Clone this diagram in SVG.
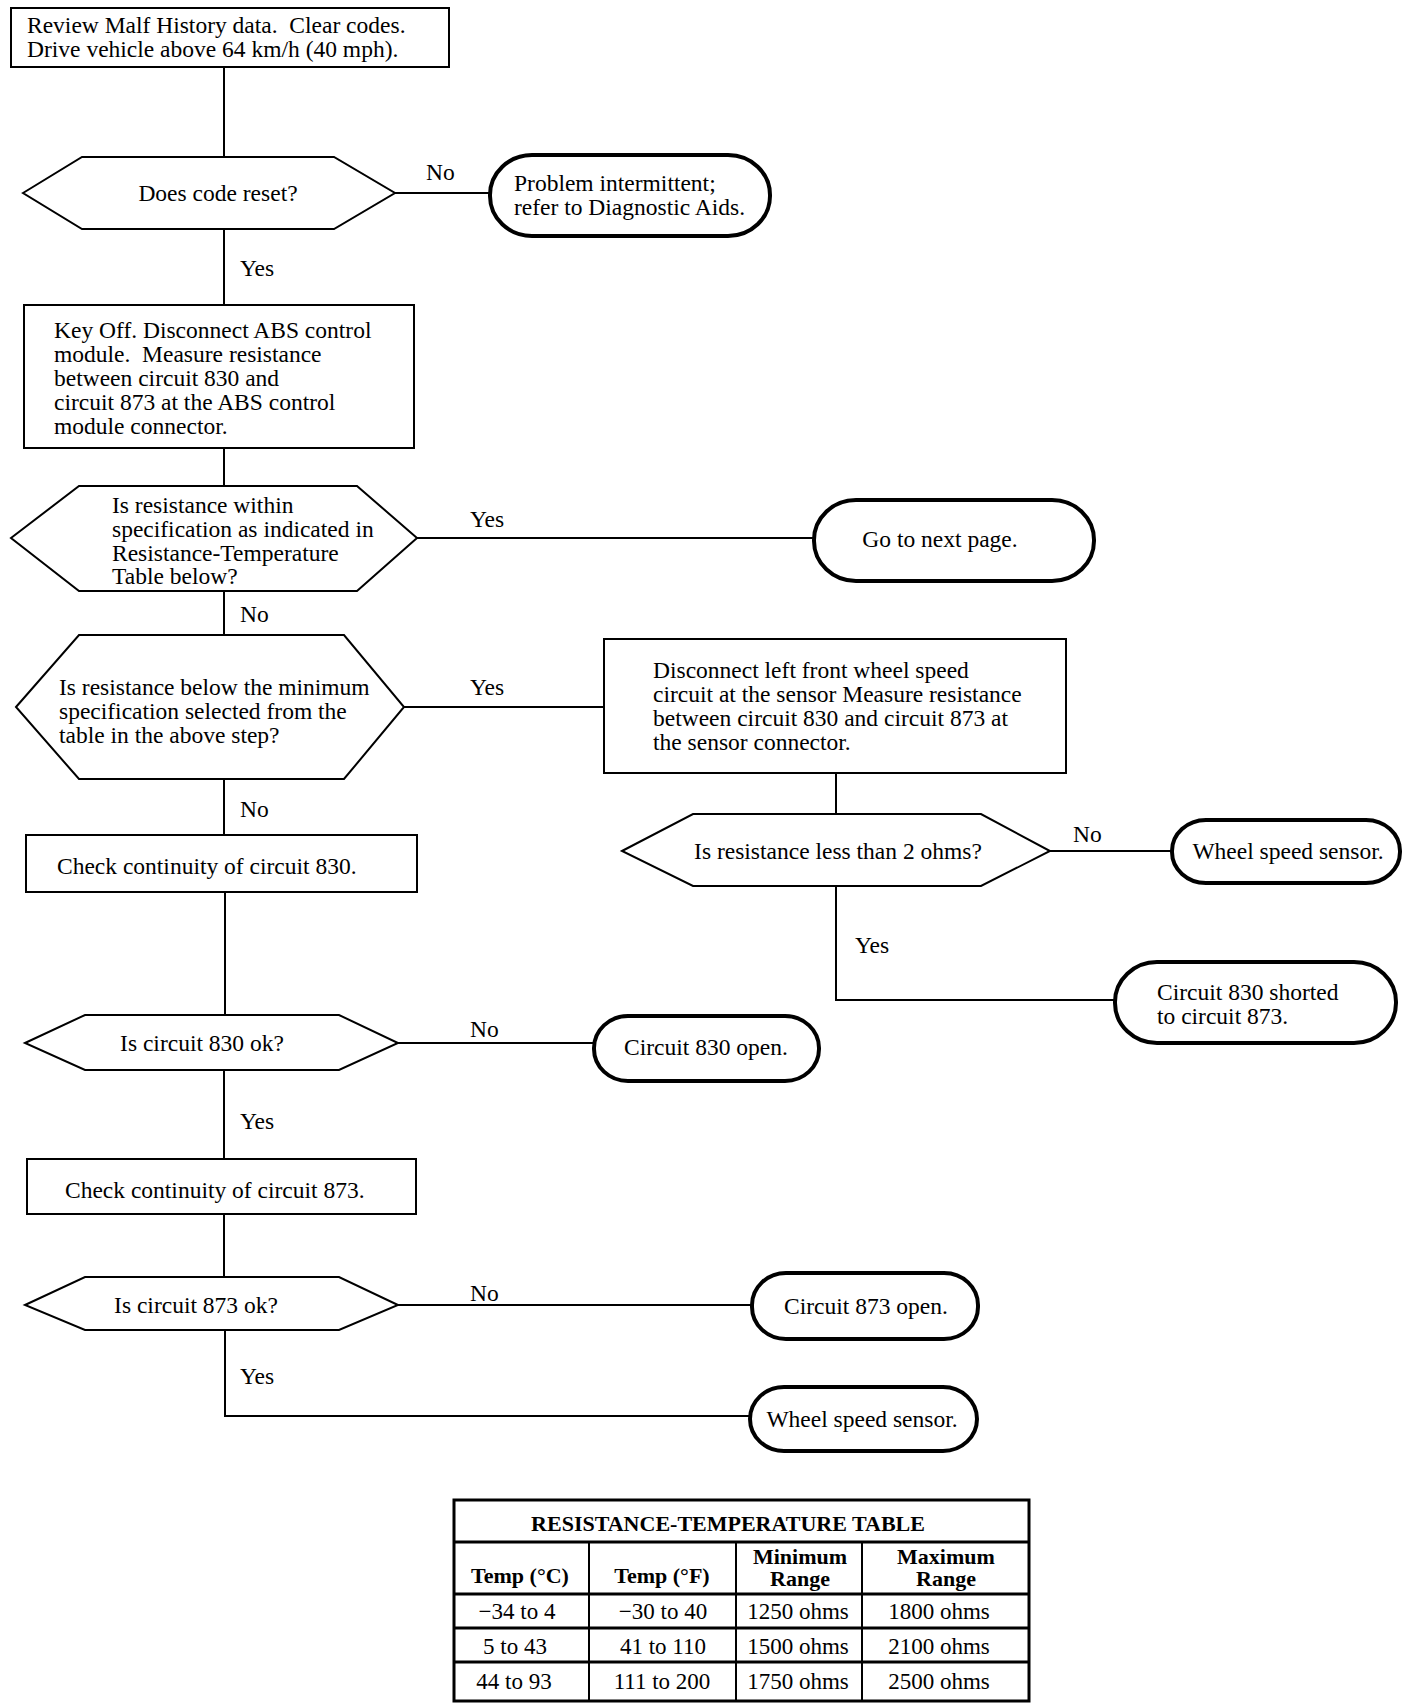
<svg xmlns="http://www.w3.org/2000/svg" width="1408" height="1708" viewBox="0 0 1408 1708">
<style>
text{font-family:"Liberation Serif","Times New Roman",serif;font-size:23.5px;fill:#000;white-space:pre}
.box{fill:#fff;stroke:#000;stroke-width:2}
.hex{fill:#fff;stroke:#000;stroke-width:2}
.term{fill:#fff;stroke:#000;stroke-width:4}
.c{fill:none;stroke:#000;stroke-width:2}
.m{text-anchor:middle}
.b{font-weight:bold}
.t{font-size:22px}
.tv{font-size:23px}
.tb{fill:none;stroke:#000;stroke-width:3}
</style>
<rect width="1408" height="1708" fill="#fff"/>
<g id="connectors">
<path class="c" d="M224,67V157"/>
<path class="c" d="M395,193H490"/>
<path class="c" d="M224,229V305"/>
<path class="c" d="M224,448V486"/>
<path class="c" d="M417,538H814"/>
<path class="c" d="M224,591V635"/>
<path class="c" d="M404,707H604"/>
<path class="c" d="M836,773V814"/>
<path class="c" d="M1048,851H1172"/>
<path class="c" d="M836,886V1000H1115"/>
<path class="c" d="M224,779V835"/>
<path class="c" d="M225,892V1015"/>
<path class="c" d="M398,1043H594"/>
<path class="c" d="M224,1070V1159"/>
<path class="c" d="M224,1214V1277"/>
<path class="c" d="M398,1305H752"/>
<path class="c" d="M225,1330V1416H750"/>
<text x="426" y="180">No</text>
<text x="240" y="276">Yes</text>
<text x="470" y="527">Yes</text>
<text x="240" y="622">No</text>
<text x="470" y="695">Yes</text>
<text x="240" y="817">No</text>
<text x="1073" y="842">No</text>
<text x="855" y="953">Yes</text>
<text x="470" y="1037">No</text>
<text x="240" y="1129">Yes</text>
<text x="470" y="1301">No</text>
<text x="240" y="1384">Yes</text>
</g>
<g id="n1"><rect class="box" x="11" y="8" width="438" height="59"/>
<text x="27" y="33" xml:space="preserve">Review Malf History data.  Clear codes.</text>
<text x="27" y="57">Drive vehicle above 64 km/h (40 mph).</text></g>
<g id="n2"><polygon class="hex" points="23,193 82,157 334,157 395,193 334,229 82,229"/>
<text class="m" x="218" y="201">Does code reset?</text></g>
<g id="n3"><rect class="term" x="490" y="155" width="280" height="81" rx="42" ry="40"/>
<text x="514" y="191">Problem intermittent;</text>
<text x="514" y="215">refer to Diagnostic Aids.</text></g>
<g id="n4"><rect class="box" x="24" y="305" width="390" height="143"/>
<text x="54" y="338">Key Off. Disconnect ABS control</text>
<text x="54" y="362" xml:space="preserve">module.  Measure resistance</text>
<text x="54" y="386">between circuit 830 and</text>
<text x="54" y="410">circuit 873 at the ABS control</text>
<text x="54" y="434">module connector.</text></g>
<g id="n5"><polygon class="hex" points="11,538 79,486 357,486 417,538 357,591 79,591"/>
<text x="112" y="513">Is resistance within</text>
<text x="112" y="537">specification as indicated in</text>
<text x="112" y="561">Resistance-Temperature</text>
<text x="112" y="584">Table below?</text></g>
<g id="n6"><rect class="term" x="814" y="500" width="280" height="81" rx="42" ry="40"/>
<text class="m" x="940" y="547">Go to next page.</text></g>
<g id="n7"><polygon class="hex" points="16,707 79,635 344,635 404,707 344,779 79,779"/>
<text x="59" y="695">Is resistance below the minimum</text>
<text x="59" y="719">specification selected from the</text>
<text x="59" y="743">table in the above step?</text></g>
<g id="n8"><rect class="box" x="604" y="639" width="462" height="134"/>
<text x="653" y="678">Disconnect left front wheel speed</text>
<text x="653" y="702">circuit at the sensor Measure resistance</text>
<text x="653" y="726">between circuit 830 and circuit 873 at</text>
<text x="653" y="750">the sensor connector.</text></g>
<g id="n9"><polygon class="hex" points="622,851 693,814 981,814 1050,851 981,886 693,886"/>
<text class="m" x="838" y="859">Is resistance less than 2 ohms?</text></g>
<g id="n10"><rect class="term" x="1172" y="820" width="228" height="63" rx="34" ry="31"/>
<text class="m" x="1288" y="859">Wheel speed sensor.</text></g>
<g id="n11"><rect class="term" x="1115" y="962" width="281" height="81" rx="42" ry="40"/>
<text x="1157" y="1000">Circuit 830 shorted</text>
<text x="1157" y="1024">to circuit 873.</text></g>
<g id="n12"><rect class="box" x="26" y="835" width="391" height="57"/>
<text x="57" y="874">Check continuity of circuit 830.</text></g>
<g id="n13"><polygon class="hex" points="25,1043 85,1015 339,1015 398,1043 339,1070 85,1070"/>
<text class="m" x="202" y="1051">Is circuit 830 ok?</text></g>
<g id="n14"><rect class="term" x="594" y="1016" width="225" height="65" rx="34" ry="32"/>
<text class="m" x="706" y="1055">Circuit 830 open.</text></g>
<g id="n15"><rect class="box" x="27" y="1159" width="389" height="55"/>
<text x="65" y="1198">Check continuity of circuit 873.</text></g>
<g id="n16"><polygon class="hex" points="25,1305 85,1277 339,1277 398,1305 339,1330 85,1330"/>
<text class="m" x="196" y="1313">Is circuit 873 ok?</text></g>
<g id="n17"><rect class="term" x="752" y="1273" width="226" height="66" rx="34" ry="32"/>
<text class="m" x="866" y="1314">Circuit 873 open.</text></g>
<g id="n18"><rect class="term" x="750" y="1387" width="227" height="64" rx="34" ry="32"/>
<text class="m" x="862" y="1427">Wheel speed sensor.</text></g>
<g id="table">
<rect class="tb" x="454" y="1500" width="575" height="201"/>
<path class="tb" d="M454,1542H1029M454,1594H1029M454,1628H1029M454,1662H1029"/>
<path class="c" d="M589,1542V1701M736,1542V1701M862,1542V1701"/>
<text class="m b t" x="728" y="1531">RESISTANCE-TEMPERATURE TABLE</text>
<text class="m b t" x="520" y="1583">Temp (°C)</text>
<text class="m b t" x="662" y="1583">Temp (°F)</text>
<text class="m b t" x="800" y="1564">Minimum</text>
<text class="m b t" x="800" y="1586">Range</text>
<text class="m b t" x="946" y="1564">Maximum</text>
<text class="m b t" x="946" y="1586">Range</text>
<text class="m tv" x="517" y="1619">−34 to 4</text>
<text class="m tv" x="663" y="1619">−30 to 40</text>
<text class="m tv" x="798" y="1619">1250 ohms</text>
<text class="m tv" x="939" y="1619">1800 ohms</text>
<text class="m tv" x="515" y="1654">5 to 43</text>
<text class="m tv" x="663" y="1654">41 to 110</text>
<text class="m tv" x="798" y="1654">1500 ohms</text>
<text class="m tv" x="939" y="1654">2100 ohms</text>
<text class="m tv" x="514" y="1689">44 to 93</text>
<text class="m tv" x="662" y="1689">111 to 200</text>
<text class="m tv" x="798" y="1689">1750 ohms</text>
<text class="m tv" x="939" y="1689">2500 ohms</text>
</g>
</svg>
